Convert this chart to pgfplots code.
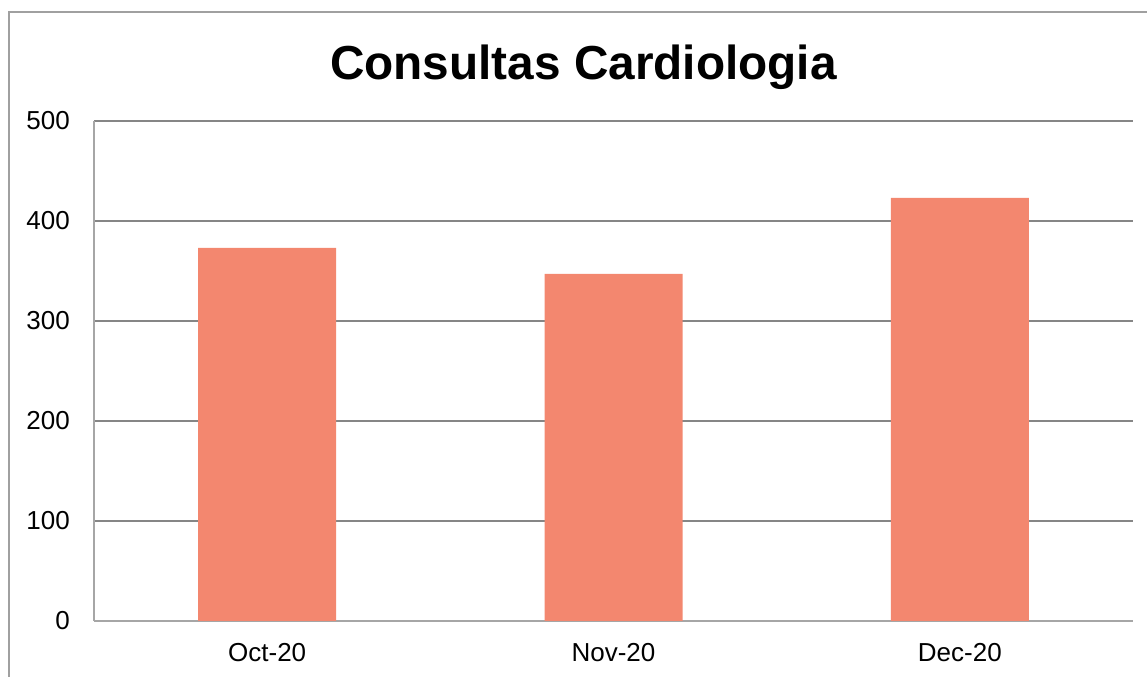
\documentclass[border=0pt]{standalone}
\usepackage{fontspec}
\setmainfont{Liberation Sans}
\usepackage{pgfplots}
\pgfplotsset{compat=1.18}
\definecolor{barc}{RGB}{243,135,111}
\definecolor{gridc}{RGB}{134,134,134}
\definecolor{axc}{RGB}{166,166,166}
\definecolor{framec}{RGB}{160,160,160}
\begin{document}
\begin{tikzpicture}
\useasboundingbox (0,0) rectangle (860.25pt,507.75pt);
\draw[framec, line width=1.1pt] (6.75pt,0) -- (6.75pt,498.75pt) -- (860.25pt,498.75pt);
\node[anchor=base, font=\fontsize{35.8}{40}\selectfont\bfseries, inner sep=0pt] at (437.6pt,447.75pt) {Consultas Cardiologia};
\begin{axis}[
  at={(70.5pt,42pt)}, anchor=south west,
  scale only axis, width=779.25pt, height=375pt,
  xmin=-0.5, xmax=2.5, ymin=0, ymax=500,
  xtick={0,1,2}, xticklabels={Oct-20,Nov-20,Dec-20},
  ytick={0,100,200,300,400,500},
  ymajorgrids, grid style={gridc, line width=0.8pt},
  axis x line*=bottom, axis y line*=left,
  axis line style={axc, line width=1.2pt, -},
  major tick length=0pt,
  tick label style={font=\fontsize{19.5}{22}\selectfont},
  /pgf/number format/assume math mode=true,
  yticklabel style={anchor=east, inner sep=0pt, xshift=-18pt},
  xticklabel style={anchor=base, inner sep=0pt, yshift=-30.75pt},
]
\addplot[ybar, fill=barc, draw=none, bar width=103.5pt] coordinates {(0,373) (1,347) (2,423)};
\end{axis}
\end{tikzpicture}
\end{document}
